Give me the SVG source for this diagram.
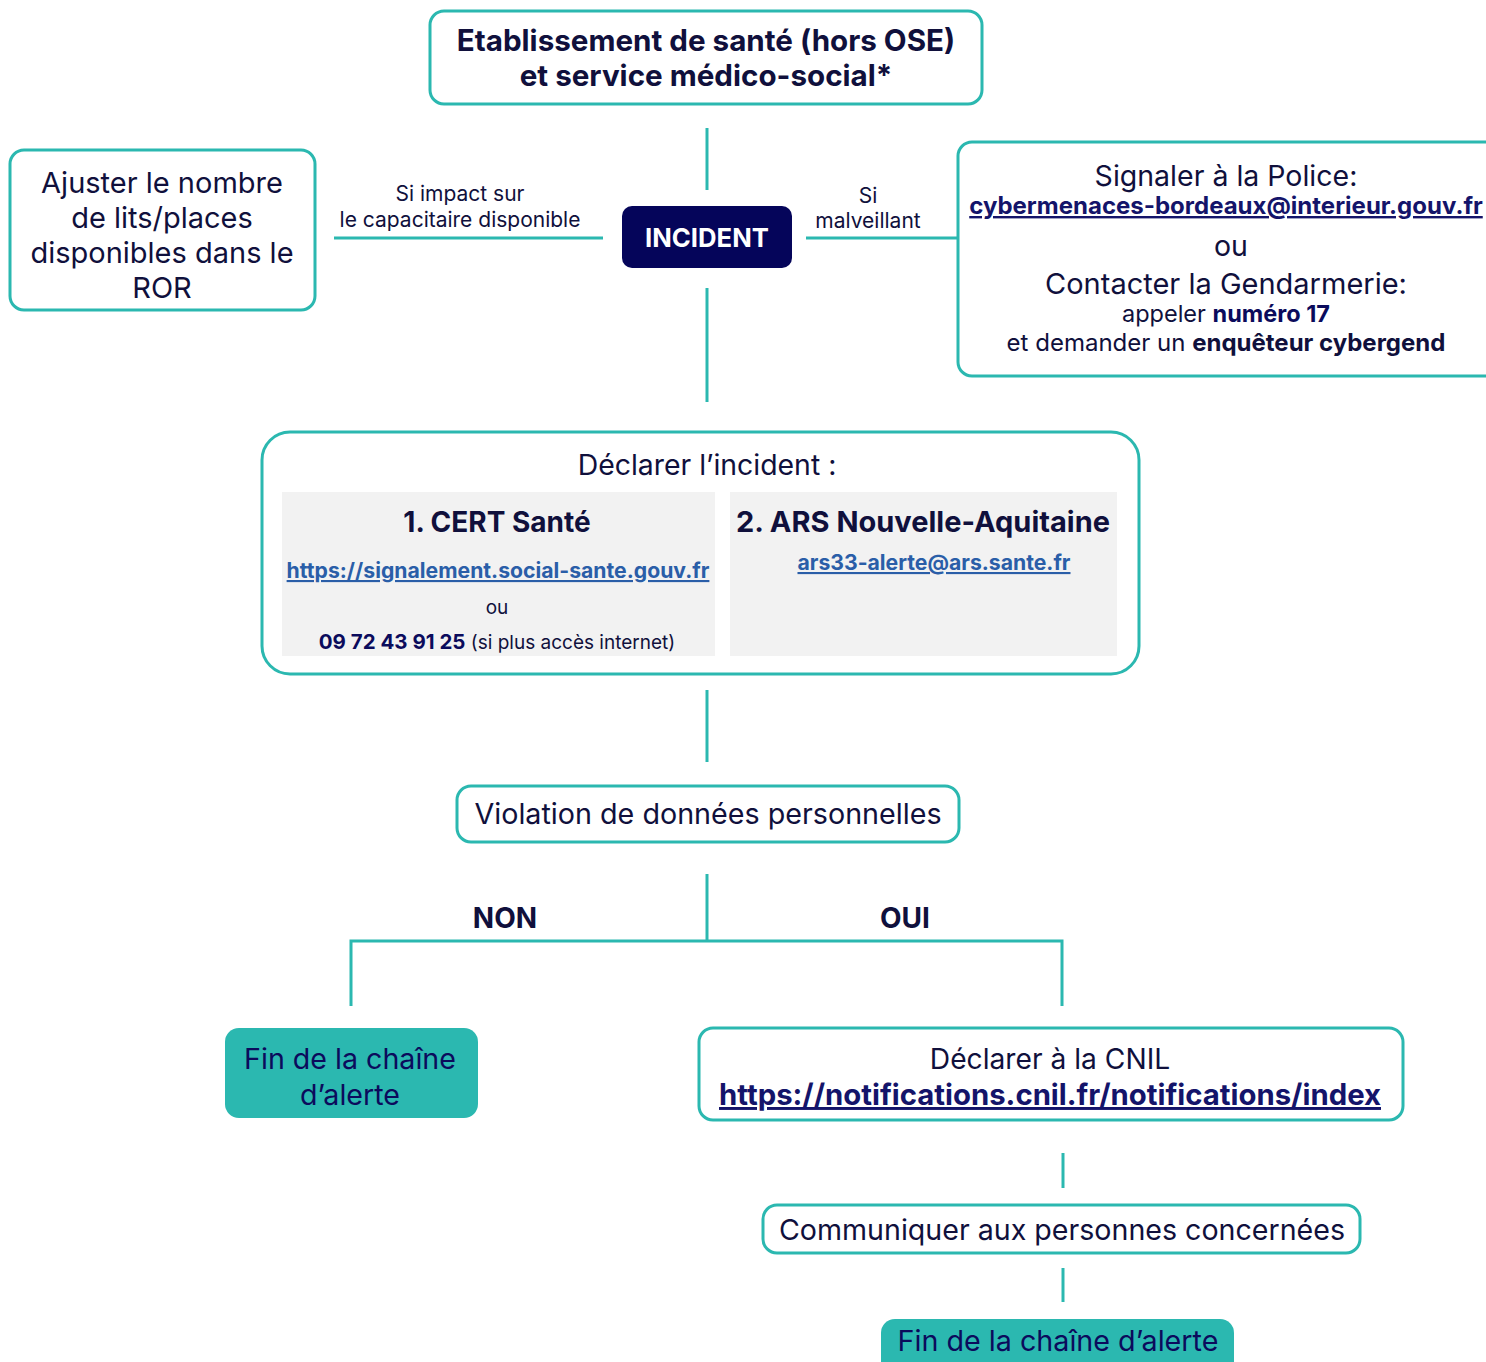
<svg xmlns="http://www.w3.org/2000/svg" width="1486" height="1362" viewBox="0 0 1486 1362">
<style>
.box{fill:#fff;stroke:#2bb8b0;stroke-width:3}
.teal{fill:#2bb8b0;stroke:none}
.gray{fill:#f2f2f2}
.ln{stroke:#2bb8b0;stroke-width:3;fill:none}
text{font-family:Inter,"Noto Sans",sans-serif;fill:#10103c;text-anchor:middle}
.b{font-weight:700}
.nv{fill:#0b0b5c}
.lk{fill:#2a5ea8;text-decoration:underline}
.lk2{fill:#14146a;text-decoration:underline}
</style>
<rect width="1486" height="1362" fill="#fff"/>
<g id="connectors">
<line class="ln" x1="707" y1="128" x2="707" y2="190"/>
<line class="ln" x1="707" y1="288" x2="707" y2="402"/>
<line class="ln" x1="334" y1="238" x2="603" y2="238"/>
<line class="ln" x1="806" y1="238" x2="958" y2="238"/>
<line class="ln" x1="707" y1="690" x2="707" y2="762"/>
<polyline class="ln" points="707,874 707,941"/>
<polyline class="ln" points="351,1006 351,941 1062,941 1062,1006"/>
<line class="ln" x1="1063" y1="1153" x2="1063" y2="1188"/>
<line class="ln" x1="1063" y1="1268" x2="1063" y2="1302"/>
<text x="460" y="201" font-size="21">Si impact sur</text>
<text x="460" y="227" font-size="21">le capacitaire disponible</text>
<text x="868" y="203" font-size="21">Si</text>
<text x="868" y="228" font-size="21">malveillant</text>
<text x="505" y="928" font-size="28" class="b">NON</text>
<text x="905" y="928" font-size="28" class="b">OUI</text>
</g>
<g id="etablissement">
<rect class="box" x="430" y="11" width="552" height="93" rx="14"/>
<text x="706" y="51" font-size="29.6" class="b">Etablissement de santé (hors OSE)</text>
<text x="706" y="86" font-size="29.6" class="b">et service médico-social*</text>
</g>
<g id="incident">
<rect x="622" y="206" width="170" height="62" rx="10" fill="#05055a"/>
<text x="707" y="247" font-size="25.7" class="b" style="fill:#fff">INCIDENT</text>
</g>
<g id="ajuster">
<rect class="box" x="10" y="150" width="305" height="160" rx="14"/>
<text x="162" y="193" font-size="29">Ajuster le nombre</text>
<text x="162" y="228" font-size="29">de lits/places</text>
<text x="162" y="263" font-size="29">disponibles dans le</text>
<text x="162" y="298" font-size="29">ROR</text>
</g>
<g id="police">
<rect class="box" x="958" y="142" width="560" height="234" rx="14"/>
<text x="1226" y="186" font-size="28.5">Signaler à la Police:</text>
<text x="1226" y="214" font-size="24" class="b lk2">cybermenaces-bordeaux@interieur.gouv.fr</text>
<text x="1231" y="256" font-size="28.5">ou</text>
<text x="1226" y="294" font-size="29">Contacter la Gendarmerie:</text>
<text x="1226" y="322" font-size="23.5">appeler <tspan class="b nv">numéro 17</tspan></text>
<text x="1226" y="351" font-size="24">et demander un <tspan class="b">enquêteur cybergend</tspan></text>
</g>
<g id="declarer">
<rect class="box" x="262" y="432" width="877" height="242" rx="28"/>
<text x="707" y="475" font-size="28.4">Déclarer l’incident :</text>
<rect class="gray" x="282" y="492" width="433" height="164"/>
<rect class="gray" x="730" y="492" width="387" height="164"/>
<text x="497" y="532" font-size="28" class="b">1. CERT Santé</text>
<text x="498" y="578" font-size="21.2" class="b lk">https://signalement.social-sante.gouv.fr</text>
<text x="497" y="614" font-size="19">ou</text>
<text x="497" y="649" font-size="19"><tspan class="b nv" font-size="20.5">09 72 43 91 25</tspan> (si plus accès internet)</text>
<text x="923" y="532" font-size="29" class="b">2. ARS Nouvelle-Aquitaine</text>
<text x="934" y="570" font-size="21.2" class="b lk">ars33-alerte@ars.sante.fr</text>
</g>
<g id="violation">
<rect class="box" x="457" y="786" width="502" height="56" rx="14"/>
<text x="708" y="824" font-size="28.7">Violation de données personnelles</text>
</g>
<g id="fin1">
<rect class="teal" x="225" y="1028" width="253" height="90" rx="14"/>
<text x="350" y="1069" font-size="28.6" class="nv">Fin de la chaîne</text>
<text x="350" y="1105" font-size="28.6" class="nv">d’alerte</text>
</g>
<g id="cnil">
<rect class="box" x="699" y="1028" width="704" height="92" rx="14"/>
<text x="1050" y="1069" font-size="28.2">Déclarer à la CNIL</text>
<text x="1050" y="1105" font-size="29.3" class="b lk2">https://notifications.cnil.fr/notifications/index</text>
</g>
<g id="communiquer">
<rect class="box" x="763" y="1205" width="597" height="48" rx="14"/>
<text x="1062" y="1240" font-size="28.6">Communiquer aux personnes concernées</text>
</g>
<g id="fin2">
<rect class="teal" x="881" y="1319" width="353" height="60" rx="14"/>
<text x="1058" y="1351" font-size="28.7" class="nv">Fin de la chaîne d’alerte</text>
</g>
</svg>
